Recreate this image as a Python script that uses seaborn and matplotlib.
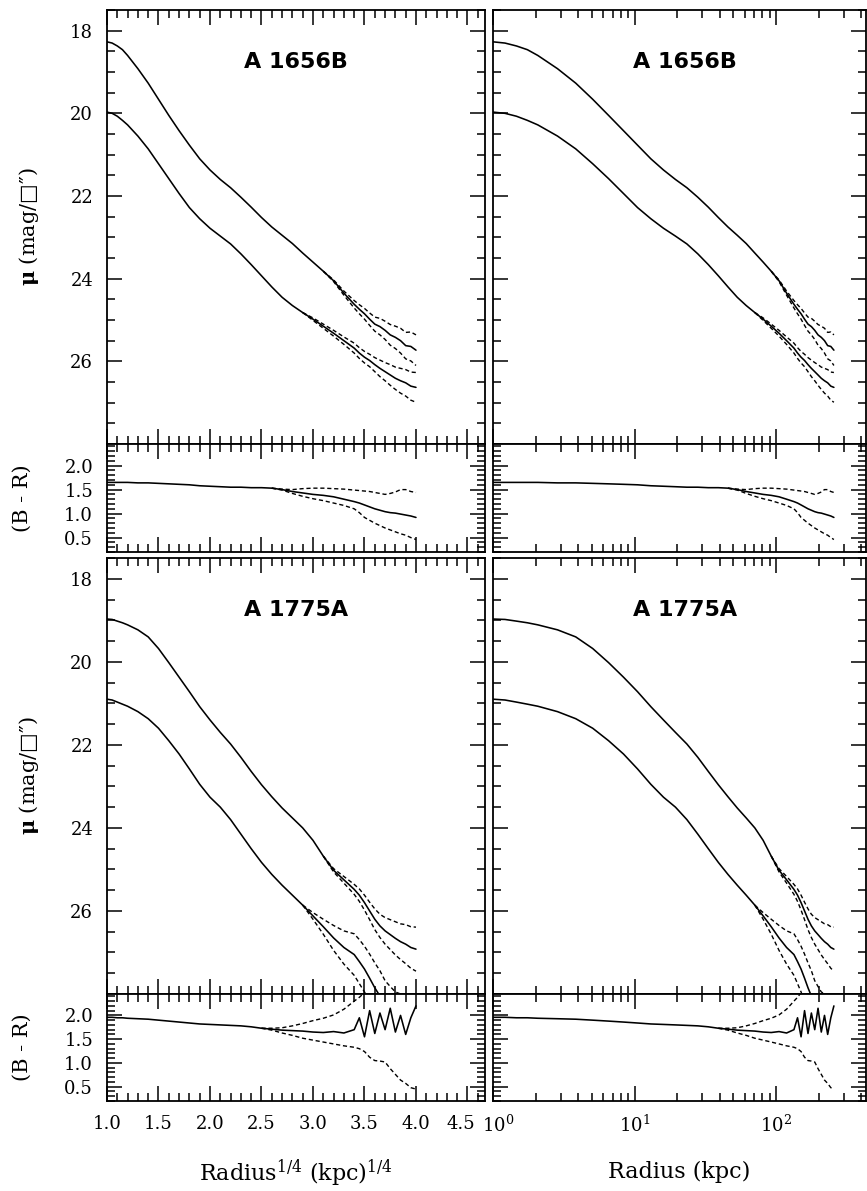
import numpy as np
import matplotlib
matplotlib.use("Agg")
import matplotlib.pyplot as plt
import matplotlib.transforms as mtransforms
import seaborn as sns
from matplotlib.ticker import (MultipleLocator, LogLocator, NullFormatter,
                               LogFormatterMathtext, FormatStrFormatter)

# ---------------------------------------------------------------------------
# Surface-brightness and colour profiles, sampled in radius^(1/4) [kpc^(1/4)]
# ---------------------------------------------------------------------------
r14 = [1.00, 1.05, 1.10, 1.15, 1.20, 1.30, 1.40, 1.50, 1.60, 1.70, 1.80, 1.90,
       2.00, 2.10, 2.20, 2.30, 2.40, 2.50, 2.60, 2.70, 2.80, 2.90, 3.00, 3.10,
       3.20, 3.30, 3.40, 3.45, 3.50, 3.55, 3.60, 3.65, 3.70, 3.75, 3.80, 3.85,
       3.90, 3.95, 4.00]

galaxies = ["A 1656B", "A 1775A"]

# A 1656B
a1656_muR = [18.27, 18.30, 18.37, 18.46, 18.60, 18.92, 19.27, 19.66, 20.05, 20.42,
             20.77, 21.10, 21.37, 21.60, 21.80, 22.03, 22.27, 22.52, 22.75, 22.95,
             23.15, 23.38, 23.60, 23.82, 24.05, 24.35, 24.62, 24.74, 24.85, 24.98,
             25.10, 25.16, 25.25, 25.36, 25.42, 25.50, 25.62, 25.64, 25.73]
a1656_errR = [0, 0, 0, 0, 0, 0, 0, 0, 0, 0, 0, 0, 0, 0, 0, 0, 0, 0, 0, 0, 0, 0, 0, 0,
              0.02, 0.05, 0.09, 0.11, 0.13, 0.15, 0.17, 0.20, 0.22, 0.25, 0.27, 0.30,
              0.32, 0.35, 0.37]
a1656_muB = [19.97, 20.00, 20.07, 20.17, 20.28, 20.55, 20.86, 21.22, 21.58, 21.94,
             22.28, 22.55, 22.78, 22.97, 23.16, 23.40, 23.66, 23.93, 24.20, 24.45,
             24.65, 24.82, 24.98, 25.15, 25.32, 25.50, 25.68, 25.80, 25.90, 25.98,
             26.08, 26.17, 26.25, 26.33, 26.41, 26.47, 26.52, 26.60, 26.63]
a1656_errB = [0, 0, 0, 0, 0, 0, 0, 0, 0, 0, 0, 0, 0, 0, 0, 0, 0, 0, 0, 0, 0, 0,
              0.03, 0.05, 0.07, 0.09, 0.12, 0.13, 0.14, 0.15, 0.17, 0.20, 0.22, 0.25,
              0.27, 0.30, 0.32, 0.34, 0.36]
a1656_BR = [1.65, 1.65, 1.65, 1.65, 1.65, 1.64, 1.64, 1.63, 1.62, 1.61, 1.60, 1.58,
            1.57, 1.56, 1.55, 1.55, 1.54, 1.54, 1.53, 1.50, 1.46, 1.43, 1.40, 1.38,
            1.35, 1.30, 1.25, 1.22, 1.18, 1.14, 1.10, 1.07, 1.04, 1.02, 1.01, 0.99,
            0.97, 0.95, 0.92]
a1656_BR_hi = [1.65, 1.65, 1.65, 1.65, 1.65, 1.64, 1.64, 1.63, 1.62, 1.61, 1.60, 1.58,
               1.57, 1.56, 1.55, 1.55, 1.54, 1.54, 1.53, 1.51, 1.50, 1.52, 1.53, 1.53,
               1.52, 1.51, 1.49, 1.48, 1.47, 1.46, 1.44, 1.42, 1.40, 1.42, 1.45, 1.50,
               1.50, 1.46, 1.44]
a1656_BR_lo = [1.65, 1.65, 1.65, 1.65, 1.65, 1.64, 1.64, 1.63, 1.62, 1.61, 1.60, 1.58,
               1.57, 1.56, 1.55, 1.55, 1.54, 1.54, 1.53, 1.49, 1.42, 1.36, 1.31, 1.27,
               1.22, 1.17, 1.10, 1.02, 0.92, 0.86, 0.80, 0.75, 0.70, 0.66, 0.62, 0.58,
               0.55, 0.50, 0.46]

# A 1775A
a1775_muR = [18.97, 18.98, 19.02, 19.06, 19.11, 19.23, 19.40, 19.68, 20.02, 20.37,
             20.72, 21.08, 21.40, 21.70, 21.98, 22.30, 22.64, 22.96, 23.25, 23.52,
             23.76, 24.00, 24.30, 24.68, 25.02, 25.25, 25.48, 25.62, 25.80, 26.00,
             26.20, 26.36, 26.48, 26.57, 26.66, 26.74, 26.80, 26.88, 26.92]
a1775_errR = [0, 0, 0, 0, 0, 0, 0, 0, 0, 0, 0, 0, 0, 0, 0, 0, 0, 0, 0, 0, 0, 0, 0, 0,
              0.04, 0.08, 0.12, 0.15, 0.18, 0.21, 0.25, 0.28, 0.32, 0.36, 0.40, 0.43,
              0.47, 0.50, 0.53]
a1775_muB = [20.90, 20.92, 20.97, 21.02, 21.07, 21.20, 21.37, 21.60, 21.90, 22.22,
             22.58, 22.95, 23.26, 23.50, 23.80, 24.15, 24.50, 24.83, 25.12, 25.38,
             25.62, 25.86, 26.12, 26.38, 26.65, 26.88, 27.05, 27.22, 27.40, 27.62,
             27.85, 28.05, 28.30, 28.45, 28.60, 28.66, 28.75, 28.82, 28.90]
a1775_errB = [0, 0, 0, 0, 0, 0, 0, 0, 0, 0, 0, 0, 0, 0, 0, 0, 0, 0, 0, 0, 0, 0,
              0.08, 0.18, 0.30, 0.40, 0.50, 0.53, 0.55, 0.58, 0.60, 0.61, 0.62, 0.63,
              0.65, 0.66, 0.68, 0.69, 0.70]
a1775_BR = [1.96, 1.96, 1.95, 1.95, 1.94, 1.93, 1.92, 1.90, 1.88, 1.86, 1.84, 1.82,
            1.81, 1.80, 1.79, 1.78, 1.76, 1.73, 1.71, 1.69, 1.68, 1.67, 1.65, 1.64,
            1.66, 1.63, 1.70, 1.95, 1.55, 2.10, 1.62, 2.05, 1.70, 2.15, 1.65, 2.00,
            1.60, 1.95, 2.20]
a1775_BR_hi = [1.96, 1.96, 1.95, 1.95, 1.94, 1.93, 1.92, 1.90, 1.88, 1.86, 1.84, 1.82,
               1.81, 1.80, 1.79, 1.78, 1.76, 1.73, 1.73, 1.74, 1.78, 1.83, 1.89, 1.94,
               2.01, 2.13, 2.30, 2.38, 2.48, 2.60, 2.70, 2.80, 2.90, 3.00, 3.10, 3.20,
               3.30, 3.40, 3.50]
a1775_BR_lo = [1.96, 1.96, 1.95, 1.95, 1.94, 1.93, 1.92, 1.90, 1.88, 1.86, 1.84, 1.82,
               1.81, 1.80, 1.79, 1.78, 1.76, 1.73, 1.69, 1.63, 1.58, 1.52, 1.48, 1.44,
               1.40, 1.36, 1.33, 1.30, 1.24, 1.12, 1.05, 1.04, 1.02, 0.88, 0.76, 0.64,
               0.57, 0.48, 0.45]

profiles = {
    "A 1656B": dict(muR=a1656_muR, errR=a1656_errR, muB=a1656_muB, errB=a1656_errB,
                    BR=a1656_BR, BR_hi=a1656_BR_hi, BR_lo=a1656_BR_lo),
    "A 1775A": dict(muR=a1775_muR, errR=a1775_errR, muB=a1775_muB, errB=a1775_errB,
                    BR=a1775_BR, BR_hi=a1775_BR_hi, BR_lo=a1775_BR_lo),
}

mu_ticks = [18, 20, 22, 24, 26]
br_ticks = [0.5, 1.0, 1.5, 2.0]
r14_ticks = [1.0, 1.5, 2.0, 2.5, 3.0, 3.5, 4.0, 4.5]

# ---------------------------------------------------------------------------
sns.set_style("ticks")
plt.rcParams["font.family"] = ["DejaVu Serif", "DejaVu Sans"]
plt.rcParams["mathtext.fontset"] = "dejavuserif"
plt.rcParams["axes.linewidth"] = 1.3
plt.rcParams["axes.edgecolor"] = "black"
plt.rcParams["text.color"] = "black"
plt.rcParams["axes.labelcolor"] = "black"
plt.rcParams["xtick.color"] = "black"
plt.rcParams["ytick.color"] = "black"

W, H = 867, 1191
fig = plt.figure(figsize=(W / 100, H / 100), dpi=100)
fig.patch.set_facecolor("white")


def add_axes_px(x0, x1, y0, y1):
    return fig.add_axes([x0 / W, 1 - y1 / H, (x1 - x0) / W, (y1 - y0) / H])


cols = [(107, 485), (493, 866)]
rows = [((10, 444), (444, 552)), ((558, 994), (994, 1101))]

x_r14 = np.array(r14)
x_rad = x_r14 ** 4

SOLID = dict(color="black", lw=1.15, estimator=None, sort=False, legend=False)
DASHED = dict(color="black", lw=1.0, estimator=None, sort=False, legend=False,
              linestyle=(0, (3.0, 2.0)))


def outer_part(err):
    err = np.asarray(err, dtype=float)
    idx = np.nonzero(err > 0)[0]
    start = max(idx[0] - 1, 0) if len(idx) else len(err)
    return slice(start, None)


def style_ticks(ax, logx):
    ax.tick_params(axis="both", which="both", direction="in",
                   top=True, right=True, bottom=True, left=True,
                   colors="black", width=1.1, labelsize=13, pad=10)
    ax.tick_params(axis="both", which="major", length=11)
    ax.tick_params(axis="both", which="minor", length=6)
    if logx:
        ax.xaxis.set_major_locator(LogLocator(base=10, numticks=10))
        ax.xaxis.set_minor_locator(LogLocator(base=10, subs=np.arange(2, 10), numticks=20))
        ax.xaxis.set_minor_formatter(NullFormatter())
        ax.xaxis.set_major_formatter(LogFormatterMathtext())
    else:
        ax.set_xticks(r14_ticks)
        ax.xaxis.set_minor_locator(MultipleLocator(0.1))
        ax.xaxis.set_major_formatter(FormatStrFormatter("%.1f"))
    for s in ax.spines.values():
        s.set_linewidth(1.3)
        s.set_color("black")


bottom_axes = []
for ri, name in enumerate(galaxies):
    p = profiles[name]
    (m0, m1), (c0, c1) = rows[ri]
    for ci, (xl, xr) in enumerate(cols):
        logx = ci == 1
        xv = x_rad if logx else x_r14
        xlim = (1.0, 10 ** 2.635) if logx else (1.0, 4.67)

        # --- surface brightness ---
        ax = add_axes_px(xl, xr, m0, m1)
        if logx:
            ax.set_xscale("log")
        for mu_key, err_key in (("muR", "errR"), ("muB", "errB")):
            mu = np.array(p[mu_key])
            err = np.array(p[err_key])
            sns.lineplot(x=xv, y=mu, ax=ax, **SOLID)
            sl = outer_part(err)
            sns.lineplot(x=xv[sl], y=(mu - err)[sl], ax=ax, **DASHED)
            sns.lineplot(x=xv[sl], y=(mu + err)[sl], ax=ax, **DASHED)
        ax.set_ylim(28.0, 17.5)
        ax.set_xlim(xlim)
        ax.set_yticks(mu_ticks)
        ax.yaxis.set_minor_locator(MultipleLocator(0.5))
        style_ticks(ax, logx)
        ax.tick_params(labelbottom=False)
        ax.set_xlabel("")
        ax.set_ylabel("")
        ax.text(0.50 if not logx else 0.515, 0.88, name, transform=ax.transAxes,
                ha="center", va="center", fontsize=16, fontweight="bold",
                family=["DejaVu Sans"])
        if logx:
            ax.tick_params(labelleft=False)
        else:
            ax.set_ylabel(r"$\mathbf{\mu}$ (mag/□″)", fontsize=15)
            ax.yaxis.set_label_coords(-0.175, 0.5)

        # --- colour ---
        axc = add_axes_px(xl, xr, c0, c1)
        if logx:
            axc.set_xscale("log")
        br = np.array(p["BR"])
        hi = np.array(p["BR_hi"])
        lo = np.array(p["BR_lo"])
        sns.lineplot(x=xv, y=br, ax=axc, **SOLID)
        sl = outer_part(hi - lo)
        sns.lineplot(x=xv[sl], y=hi[sl], ax=axc, **DASHED)
        sns.lineplot(x=xv[sl], y=lo[sl], ax=axc, **DASHED)
        axc.set_ylim(0.2, 2.45)
        axc.set_xlim(xlim)
        axc.set_yticks(br_ticks)
        axc.yaxis.set_minor_locator(MultipleLocator(0.1))
        axc.yaxis.set_major_formatter(FormatStrFormatter("%.1f"))
        style_ticks(axc, logx)
        axc.set_xlabel("")
        axc.set_ylabel("")
        if logx:
            axc.tick_params(labelleft=False)
        else:
            axc.set_ylabel("(B - R)", fontsize=15)
            axc.yaxis.set_label_coords(-0.20, 0.5)
        if ri == 0:
            axc.tick_params(labelbottom=False)
        else:
            bottom_axes.append(axc)
            if logx:
                axc.set_xlabel("Radius (kpc)", fontsize=16, labelpad=18)
            else:
                axc.set_xlabel(r"Radius$^{1/4}$ (kpc)$^{1/4}$", fontsize=16, labelpad=18)

# the last r^(1/4) label and the first log label sit side by side at the column gap
fig.canvas.draw()
left_labels = [t for t in bottom_axes[0].get_xticklabels() if t.get_text() == "4.5"]
for t in left_labels:
    t.set_transform(t.get_transform() + mtransforms.ScaledTranslation(-5 / 72, 0, fig.dpi_scale_trans))
right_labels = bottom_axes[1].get_xticklabels()
for t in right_labels:
    if "{0}" in t.get_text():
        t.set_transform(t.get_transform() + mtransforms.ScaledTranslation(4 / 72, 0, fig.dpi_scale_trans))

fig.savefig("out.png", dpi=100, facecolor="white")
